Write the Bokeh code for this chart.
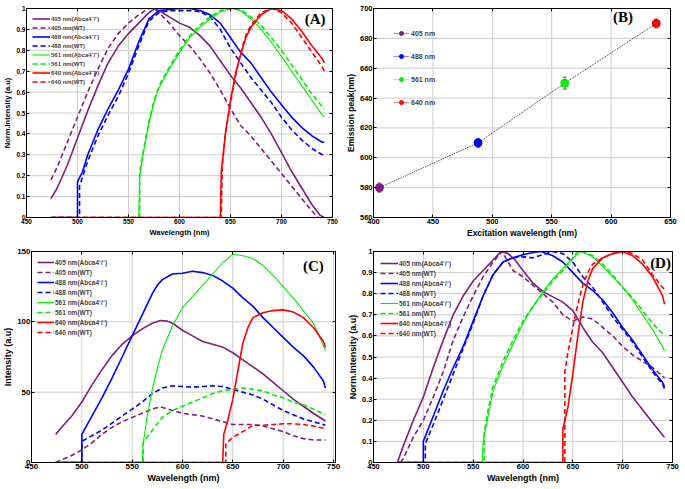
from bokeh.plotting import figure
from bokeh.layouts import column, row
from bokeh.models import (ColumnDataSource, Legend, LegendItem, Label,
                          FixedTicker, Whisker, TeeHead, LinearAxis)
from bokeh.embed import file_html
from bokeh.resources import INLINE

PURPLE = "#7E1E7E"
BLUE = "#0000FF"
GREEN = "#00EE00"
RED = "#FF0000"
SANS = "Liberation Sans"

LAB_405 = "405 nm(Abca4\u207b/\u207b)"
LAB_405W = "405 nm(WT)"
LAB_488 = "488 nm(Abca4\u207b/\u207b)"
LAB_488W = "488 nm(WT)"
LAB_561 = "561 nm(Abca4\u207b/\u207b)"
LAB_561W = "561 nm(WT)"
LAB_640 = "640 nm(Abca4\u207b/\u207b)"
LAB_640W = "640 nm(WT)"

norm_ticks = [0, 0.1, 0.2, 0.3, 0.4, 0.5, 0.6, 0.7, 0.8, 0.9, 1]
wl_ticks = [450, 500, 550, 600, 650, 700, 750]
int_ticks = [0, 50, 100, 150]
ex_ticks = [400, 450, 500, 550, 600, 650]
em_ticks = [560, 580, 600, 620, 640, 660, 680, 700]

# ---------------- Panel A (normalised) ----------------
A405_x = [474, 480, 490, 500, 510, 520, 530, 540, 550, 560, 570, 576, 580, 590, 600, 610, 620, 630, 640, 650, 660, 670, 680, 690, 700, 710, 720, 730, 738, 742]
A405_y = [0.09, 0.14, 0.25, 0.38, 0.51, 0.63, 0.74, 0.82, 0.88, 0.93, 0.98, 1.0, 0.99, 0.96, 0.93, 0.91, 0.87, 0.82, 0.75, 0.68, 0.62, 0.55, 0.48, 0.40, 0.31, 0.22, 0.14, 0.06, 0.01, 0.0]
A405W_x = [474, 480, 490, 500, 510, 520, 530, 540, 550, 560, 570, 575, 580, 590, 600, 610, 620, 630, 640, 650, 660, 670, 680, 690, 700, 710, 720, 730, 736]
A405W_y = [0.18, 0.24, 0.36, 0.48, 0.60, 0.71, 0.81, 0.88, 0.93, 0.97, 1.0, 1.0, 0.98, 0.93, 0.87, 0.82, 0.76, 0.69, 0.61, 0.52, 0.44, 0.39, 0.33, 0.27, 0.21, 0.15, 0.09, 0.03, 0.0]
A488_x = [474, 500, 500, 505, 510, 520, 530, 540, 550, 560, 570, 580, 590, 600, 610, 620, 630, 640, 650, 660, 670, 680, 690, 700, 710, 720, 730, 740, 742]
A488_y = [0, 0, 0.17, 0.22, 0.30, 0.42, 0.52, 0.61, 0.71, 0.84, 0.95, 0.99, 0.995, 1.0, 1.0, 0.99, 0.97, 0.93, 0.86, 0.79, 0.74, 0.67, 0.60, 0.54, 0.48, 0.43, 0.39, 0.36, 0.36]
A488W_x = [474, 502, 502, 510, 520, 530, 540, 550, 560, 570, 580, 590, 600, 610, 620, 630, 640, 650, 660, 670, 680, 690, 700, 710, 720, 730, 740, 742]
A488W_y = [0, 0, 0.15, 0.27, 0.39, 0.49, 0.58, 0.69, 0.82, 0.94, 0.98, 0.99, 0.99, 0.99, 0.985, 0.96, 0.90, 0.81, 0.74, 0.67, 0.61, 0.55, 0.48, 0.42, 0.37, 0.33, 0.30, 0.29]
A561_x = [474, 560, 561, 565, 570, 575, 580, 590, 600, 610, 620, 630, 640, 650, 660, 670, 680, 690, 700, 710, 720, 730, 740, 742]
A561_y = [0, 0, 0.2, 0.32, 0.45, 0.55, 0.62, 0.71, 0.79, 0.86, 0.91, 0.95, 0.985, 1.0, 0.99, 0.95, 0.90, 0.84, 0.77, 0.70, 0.63, 0.56, 0.49, 0.48]
A561W_x = [474, 561, 561, 565, 570, 575, 580, 590, 600, 610, 620, 630, 640, 650, 660, 670, 680, 690, 700, 710, 720, 730, 740, 742]
A561W_y = [0, 0, 0.22, 0.33, 0.46, 0.56, 0.63, 0.72, 0.80, 0.87, 0.92, 0.96, 0.99, 1.0, 0.995, 0.96, 0.92, 0.86, 0.80, 0.73, 0.66, 0.59, 0.53, 0.52]
A640_x = [474, 640, 641, 645, 650, 655, 660, 665, 670, 680, 690, 700, 710, 720, 730, 740, 742]
A640_y = [0, 0, 0.22, 0.40, 0.56, 0.69, 0.78, 0.86, 0.91, 0.97, 1.0, 0.99, 0.95, 0.89, 0.82, 0.76, 0.74]
A640W_x = [474, 641, 642, 645, 650, 655, 660, 665, 670, 680, 690, 700, 710, 720, 730, 740, 742]
A640W_y = [0, 0, 0.25, 0.40, 0.55, 0.68, 0.79, 0.87, 0.92, 0.98, 1.0, 0.98, 0.93, 0.86, 0.79, 0.72, 0.70]

# ---------------- Panel B (emission peak) ----------------
ex_nm = [405, 488, 561, 638]
em_peak = [580, 610, 650, 690]
em_err = [3, 3, 4, 3]
B_labels = ["405 nm", "488 nm", "561 nm", "640 nm"]

# ---------------- Panel C (intensity) ----------------
C405_x = [474, 480, 490, 500, 510, 520, 530, 540, 550, 560, 570, 578, 585, 590, 600, 610, 620, 630, 640, 650, 660, 670, 680, 690, 700, 710, 720, 730, 742]
C405_y = [20, 25, 33, 43, 55, 66, 76, 84, 90, 95, 99, 101, 100.5, 99, 94, 90, 86, 84, 82, 78, 73, 68, 63, 57, 51, 45, 40, 35, 29.5]
C405W_x = [474, 480, 490, 500, 510, 520, 530, 540, 550, 560, 570, 578, 590, 600, 610, 620, 630, 640, 650, 660, 670, 680, 690, 700, 710, 720, 730, 742]
C405W_y = [0, 2, 5, 9, 14, 20, 25, 29, 32, 35, 38, 39.5, 37, 35, 34, 33, 31, 29, 27, 27, 27, 26, 24, 22, 19, 17, 16, 16]
C488_x = [474, 500, 500, 510, 520, 530, 540, 550, 560, 570, 575, 580, 590, 600, 610, 620, 630, 640, 650, 660, 670, 680, 690, 700, 710, 720, 730, 740, 742]
C488_y = [0, 0, 20, 33, 46, 60, 75, 90, 105, 120, 126, 130, 134, 134.5, 136, 135, 133, 129, 124, 117, 111, 103, 96, 89, 82, 76, 68, 58, 53]
C488W_x = [474, 500, 500, 510, 520, 530, 540, 550, 560, 570, 580, 590, 600, 610, 620, 630, 640, 650, 660, 670, 680, 690, 700, 710, 720, 730, 742]
C488W_y = [0, 0, 15, 19, 23, 28, 33, 38, 43, 49, 53, 54.5, 54, 53.5, 54, 54.5, 54, 52, 50, 48, 45, 41, 37, 34, 31, 29, 26.5]
C561_x = [474, 560, 561, 565, 570, 575, 580, 590, 600, 610, 620, 630, 640, 650, 660, 670, 680, 690, 700, 710, 720, 730, 742]
C561_y = [0, 0, 14, 33, 52, 67, 80, 97, 110, 118, 126, 134, 142, 148, 147, 145, 140, 133, 125, 117, 108, 99, 80]
C561W_x = [474, 561, 561, 570, 580, 590, 600, 610, 620, 630, 640, 650, 660, 670, 680, 690, 700, 710, 720, 730, 742]
C561W_y = [0, 0, 14, 23, 32, 37, 40, 43, 46, 49, 51, 52, 53, 52, 51, 48, 46, 43, 41, 38, 34]
C640_x = [474, 640, 641, 645, 650, 655, 660, 665, 670, 680, 690, 700, 710, 720, 730, 740, 742]
C640_y = [0, 0, 20, 30, 45, 65, 85, 96, 103, 106.5, 108, 108.5, 107, 103, 96, 86, 82]
C640W_x = [474, 643, 643, 650, 660, 670, 680, 690, 700, 710, 720, 730, 742]
C640W_y = [0, 0, 13, 18, 22, 26.5, 26.5, 27, 27.5, 27.5, 27, 26, 24]

# ---------------- Panel D (normalised) ----------------
D405_x = [474, 480, 490, 500, 510, 520, 530, 540, 550, 560, 570, 578, 585, 592, 600, 610, 620, 630, 640, 650, 660, 670, 680, 690, 700, 710, 720, 730, 740, 742]
D405_y = [0, 0.08, 0.2, 0.31, 0.45, 0.58, 0.70, 0.79, 0.86, 0.91, 0.96, 1.0, 0.99, 0.96, 0.91, 0.85, 0.81, 0.785, 0.76, 0.72, 0.64, 0.57, 0.52, 0.45, 0.38, 0.31, 0.25, 0.19, 0.13, 0.12]
D405W_x = [477, 480, 490, 500, 510, 520, 530, 540, 550, 560, 570, 579, 585, 590, 600, 610, 620, 630, 640, 650, 660, 670, 680, 690, 700, 710, 720, 730, 740, 742]
D405W_y = [0, 0.02, 0.12, 0.2, 0.31, 0.43, 0.58, 0.69, 0.79, 0.88, 0.95, 1.0, 0.95, 0.91, 0.88, 0.84, 0.80, 0.76, 0.70, 0.67, 0.69, 0.68, 0.64, 0.60, 0.55, 0.51, 0.48, 0.45, 0.41, 0.40]
D488_x = [474, 500, 500, 510, 520, 530, 540, 550, 560, 570, 580, 590, 600, 610, 618, 630, 640, 650, 660, 670, 680, 690, 700, 710, 720, 730, 740, 742]
D488_y = [0, 0, 0.1, 0.22, 0.34, 0.45, 0.55, 0.67, 0.79, 0.89, 0.95, 0.97, 0.985, 0.995, 1.0, 0.98, 0.95, 0.90, 0.85, 0.815, 0.77, 0.71, 0.64, 0.58, 0.51, 0.44, 0.38, 0.36]
D488W_x = [474, 502, 502, 510, 520, 530, 540, 550, 560, 570, 580, 590, 600, 610, 620, 630, 640, 650, 660, 670, 680, 690, 700, 710, 720, 730, 740, 742]
D488W_y = [0, 0, 0.09, 0.18, 0.30, 0.42, 0.54, 0.66, 0.79, 0.89, 0.95, 0.97, 0.975, 0.97, 0.985, 1.0, 0.99, 0.95, 0.88, 0.83, 0.76, 0.69, 0.63, 0.57, 0.50, 0.43, 0.37, 0.35]
D561_x = [474, 559, 560, 565, 570, 580, 590, 600, 610, 620, 630, 640, 650, 658, 670, 680, 690, 700, 710, 720, 730, 740, 742]
D561_y = [0, 0, 0.1, 0.22, 0.34, 0.46, 0.56, 0.66, 0.74, 0.81, 0.87, 0.92, 0.97, 1.0, 0.975, 0.93, 0.88, 0.83, 0.77, 0.70, 0.63, 0.55, 0.53]
D561W_x = [474, 561, 561, 565, 570, 580, 590, 600, 610, 620, 630, 640, 650, 655, 660, 670, 680, 690, 700, 710, 720, 730, 740, 742]
D561W_y = [0, 0, 0.14, 0.25, 0.36, 0.48, 0.58, 0.67, 0.74, 0.80, 0.86, 0.91, 0.97, 1.0, 1.0, 0.98, 0.94, 0.89, 0.83, 0.78, 0.72, 0.66, 0.61, 0.60]
D640_x = [474, 640, 640, 645, 650, 655, 660, 665, 670, 680, 690, 700, 710, 720, 730, 740, 742]
D640_y = [0, 0, 0.16, 0.26, 0.42, 0.60, 0.76, 0.86, 0.92, 0.97, 0.99, 1.0, 0.98, 0.94, 0.88, 0.79, 0.75]
D640W_x = [474, 642, 642, 645, 650, 655, 660, 665, 670, 680, 690, 700, 710, 720, 730, 740, 742]
D640W_y = [0, 0, 0.43, 0.52, 0.64, 0.75, 0.84, 0.90, 0.94, 0.97, 0.99, 1.0, 0.99, 0.96, 0.89, 0.83, 0.82]

GRID_COLOR = "#CCCCCC"


def mirror_axis(p, ticks, side):
    ax = LinearAxis(ticker=FixedTicker(ticks=ticks), axis_line_color="black",
                    major_tick_in=3, major_tick_out=0, minor_tick_line_color=None,
                    major_tick_line_color="black",
                    major_label_text_font_size="0px", major_label_standoff=0,
                    major_label_text_alpha=0)
    p.add_layout(ax, side)


def grid_lines(p, xticks, yticks):
    x0, x1 = p.x_range.start, p.x_range.end
    y0, y1 = p.y_range.start, p.y_range.end
    gx = [t for t in xticks if x0 < t < x1]
    gy = [t for t in yticks if y0 < t < y1]
    p.segment(x0=gx, y0=[y0] * len(gx), x1=gx, y1=[y1] * len(gx),
              line_color=GRID_COLOR, line_width=1)
    p.segment(x0=[x0] * len(gy), y0=gy, x1=[x1] * len(gy), y1=gy,
              line_color=GRID_COLOR, line_width=1)


def style(p, xlabel, ylabel, xticks, yticks, tick_fs, lab_fs, yover=None):
    p.background_fill_color = "white"
    p.border_fill_color = "white"
    p.outline_line_color = "black"
    p.outline_line_width = 1
    p.grid.visible = False
    p.xaxis.axis_label = xlabel
    p.yaxis.axis_label = ylabel
    p.xaxis.ticker = FixedTicker(ticks=xticks)
    p.yaxis.ticker = FixedTicker(ticks=yticks)
    if yover:
        p.yaxis.major_label_overrides = yover
    for ax in (p.xaxis[0], p.yaxis[0]):
        ax.axis_line_color = "black"
        ax.major_tick_in = 3
        ax.major_tick_out = 0
        ax.major_tick_line_color = "black"
        ax.minor_tick_line_color = None
        ax.major_label_text_font = SANS
        ax.major_label_text_font_style = "bold"
        ax.major_label_text_font_size = tick_fs
        ax.major_label_text_color = "black"
        ax.major_label_standoff = 1
        ax.axis_label_text_font = SANS
        ax.axis_label_text_font_style = "bold"
        ax.axis_label_text_font_size = lab_fs
        ax.axis_label_text_color = "black"
        ax.axis_label_standoff = 1
    grid_lines(p, xticks, yticks)
    mirror_axis(p, xticks, "above")
    mirror_axis(p, yticks, "right")


def spectra(p, series, fs, lh, gw, margin, padding):
    items = []
    for x, y, color, dash, lw, lab in series:
        r = p.line(x, y, line_color=color, line_dash=dash, line_width=lw)
        items.append(LegendItem(label=lab, renderers=[r]))
    leg = Legend(items=items, location="top_left", label_text_font=SANS,
                 label_text_font_style="bold", label_text_font_size=fs,
                 label_height=lh, glyph_height=lh, glyph_width=gw, spacing=0,
                 label_standoff=1, margin=margin, padding=padding,
                 border_line_alpha=0, background_fill_alpha=0)
    p.add_layout(leg)


def letter(p, x, y, txt):
    p.add_layout(Label(x=x, y=y, text=txt, text_font="Liberation Serif",
                       text_font_style="bold", text_font_size="15px",
                       text_align="center", text_baseline="middle",
                       text_color="black"))


DASH = "5 3"
over = {0: "0", 1: "1"}

# ---- A ----
pA = figure(width=342, height=245, x_range=(450, 750), y_range=(0, 1),
            output_backend="svg", toolbar_location=None,
            min_border_left=25, min_border_right=10, min_border_top=6, min_border_bottom=22)
style(pA, "Wavelength (nm)", "Norm.Intensity (a.u)", wl_ticks, norm_ticks, "6.5px", "7.5px", over)
spectra(pA, [
    (A405_x, A405_y, PURPLE, "solid", 1.6, LAB_405),
    (A405W_x, A405W_y, PURPLE, DASH, 1.6, LAB_405W),
    (A488_x, A488_y, BLUE, "solid", 1.6, LAB_488),
    (A488W_x, A488W_y, BLUE, DASH, 1.6, LAB_488W),
    (A561_x, A561_y, GREEN, "solid", 1.1, LAB_561),
    (A561W_x, A561W_y, GREEN, DASH, 1.6, LAB_561W),
    (A640_x, A640_y, RED, "solid", 1.6, LAB_640),
    (A640W_x, A640W_y, RED, DASH, 1.6, LAB_640W),
], "6px", 9, 18, 4, 2)
letter(pA, 733, 0.95, "(A)")

# ---- B ----
pB = figure(width=343, height=245, x_range=(400, 650), y_range=(560, 700),
            output_backend="svg", toolbar_location=None,
            min_border_left=30, min_border_right=15, min_border_top=8, min_border_bottom=28)
style(pB, "Excitation wavelength (nm)", "Emission peak(nm)", ex_ticks, em_ticks, "7.5px", "8.5px")
pB.line(ex_nm, em_peak, line_color="#333333", line_dash="1 1", line_width=1)
src = ColumnDataSource(dict(x=ex_nm,
                            upper=[m + e for m, e in zip(em_peak, em_err)],
                            lower=[m - e for m, e in zip(em_peak, em_err)]))
pB.add_layout(Whisker(source=src, base="x", upper="upper", lower="lower",
                      line_color="#666666", line_width=1,
                      upper_head=TeeHead(size=4, line_color="#666666"),
                      lower_head=TeeHead(size=4, line_color="#666666")))
b_cols = [PURPLE, BLUE, GREEN, RED]
b_light = ["#C48BC4", "#8C8CFF", "#8CFF8C", "#FF8C8C"]
b_items = []
for i in range(4):
    lr = pB.line([ex_nm[i]], [em_peak[i]], line_color=b_light[i], line_width=1.2)
    cr = pB.scatter([ex_nm[i]], [em_peak[i]], size=8, fill_color=b_cols[i],
                    line_color=b_cols[i])
    b_items.append(LegendItem(label=B_labels[i], renderers=[lr, cr]))
pB.add_layout(Legend(items=b_items, location="top_left", label_text_font=SANS,
                     label_text_font_style="bold", label_text_font_size="7px",
                     label_height=10, glyph_height=10, glyph_width=16, spacing=13,
                     label_standoff=2, margin=14, padding=6,
                     border_line_alpha=0, background_fill_alpha=0))
letter(pB, 610, 694, "(B)")

# ---- C ----
pC = figure(width=345, height=244, x_range=(450, 752), y_range=(0, 150),
            output_backend="svg", toolbar_location=None,
            min_border_left=27, min_border_right=10, min_border_top=4, min_border_bottom=25)
style(pC, "Wavelength (nm)", "Intensity (a.u)", wl_ticks, int_ticks, "8px", "9px")
spectra(pC, [
    (C405_x, C405_y, PURPLE, "solid", 1.6, LAB_405),
    (C405W_x, C405W_y, PURPLE, DASH, 1.6, LAB_405W),
    (C488_x, C488_y, BLUE, "solid", 1.6, LAB_488),
    (C488W_x, C488W_y, BLUE, DASH, 1.6, LAB_488W),
    (C561_x, C561_y, GREEN, "solid", 1.1, LAB_561),
    (C561W_x, C561W_y, GREEN, DASH, 1.6, LAB_561W),
    (C640_x, C640_y, RED, "solid", 1.6, LAB_640),
    (C640W_x, C640W_y, RED, DASH, 1.6, LAB_640W),
], "6.5px", 10, 17, 4, 2)
letter(pC, 730, 140, "(C)")

# ---- D ----
pD = figure(width=340, height=244, x_range=(450, 750), y_range=(0, 1),
            output_backend="svg", toolbar_location=None,
            min_border_left=25, min_border_right=13, min_border_top=6, min_border_bottom=27)
style(pD, "Wavelength (nm)", "Norm.Intensity (a.u)", wl_ticks, norm_ticks, "7.5px", "9px", over)
spectra(pD, [
    (D405_x, D405_y, PURPLE, "solid", 1.6, LAB_405),
    (D405W_x, D405W_y, PURPLE, DASH, 1.6, LAB_405W),
    (D488_x, D488_y, BLUE, "solid", 1.6, LAB_488),
    (D488W_x, D488W_y, BLUE, DASH, 1.6, LAB_488W),
    (D561_x, D561_y, GREEN, "solid", 1.1, LAB_561),
    (D561W_x, D561W_y, GREEN, DASH, 1.6, LAB_561W),
    (D640_x, D640_y, RED, "solid", 1.6, LAB_640),
    (D640W_x, D640W_y, RED, DASH, 1.6, LAB_640W),
], "6.5px", 10, 18, 4, 3)
letter(pD, 738, 0.947, "(D)")

layout = column(row(pA, pB), row(pC, pD))
open("out.html", "w").write(file_html(layout, INLINE))
